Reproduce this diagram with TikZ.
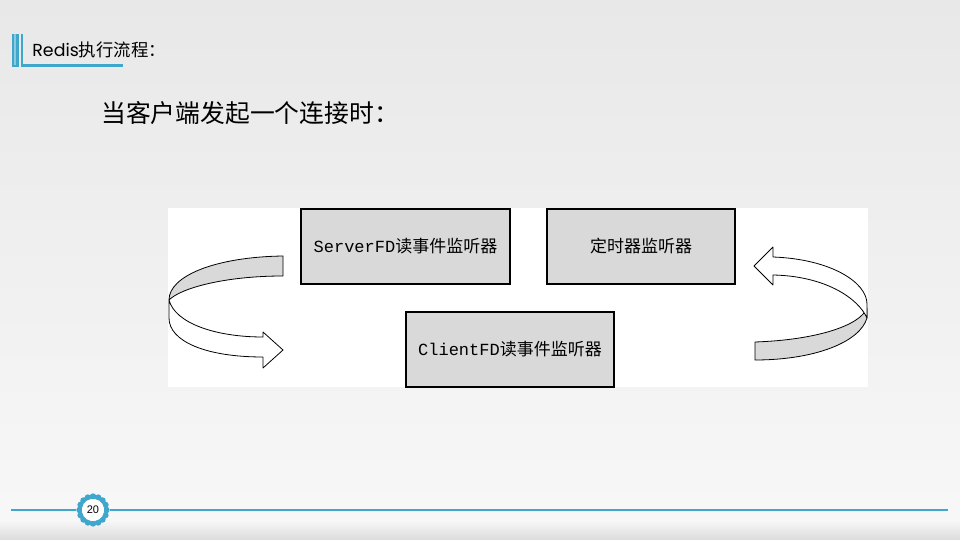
\documentclass[tikz,border=0pt]{standalone}
\usepackage{fontspec}
\newfontfamily\cjk{Noto Sans CJK SC}
\newfontfamily\monofnt{Liberation Mono}
\newfontfamily\headfnt{Poppins}
\newfontfamily\numfnt{Liberation Sans}
\usepackage{xcolor}
\usepackage{tikz}
\usetikzlibrary{positioning, calc}
\definecolor{accent}{HTML}{3FA7CC}
\definecolor{boxgray}{HTML}{D9D9D9}

\begin{document}
\begin{tikzpicture}[
    x=0.5pt, y=-0.5pt,
    node distance=14pt and 18.5pt,
    listener/.style={rectangle, draw=black, fill=boxgray, line width=0.6pt, minimum height=37.5pt, outer sep=0pt, inner sep=0pt, font=\fontsize{8.5}{10}\selectfont},
    ribbon/.style={draw=black, line width=0.4pt, line join=round},
    rule/.style={accent, line width=1pt}
]
\useasboundingbox (0,0) rectangle (960,540);
\shade[top color=black!9, bottom color=blue!2!black!3] (0,0) rectangle (960,522);
\shade[top color=blue!2!black!4, bottom color=black!14] (0,522) rectangle (960,540);

\draw[accent, line width=1.3pt, fill=accent!60] (13,34) -- (13,66) -- (17.5,66) -- (17.5,34);
\draw[accent, line width=1.3pt] (22,34) -- (22,65.5) -- (123,65.5);
\node[anchor=west, inner sep=0pt, font=\fontsize{8.7}{10}\selectfont] (head) at (32,50) {\headfnt Redis\cjk 执行流程：};

\node[anchor=west, inner sep=0pt, font=\cjk\fontsize{12.4}{14}\selectfont] (title) at (101,113) {当客户端发起一个连接时：};

\fill[white] (168,208) rectangle (868,387);

\node[listener, minimum width=104.5pt] (server) at (405.5,246.5) {\monofnt ServerFD\cjk 读事件监听器};
\node[listener, minimum width=94pt, right=of server] (timer) {\cjk 定时器监听器};
\node[listener, minimum width=104pt, below=of server.south east] (client) {\monofnt ClientFD\cjk 读事件监听器};

\filldraw[ribbon, fill=boxgray] (283,256) .. controls (215,257) and (169,276) .. (169,300)
    .. controls (181,288) and (225,276) .. (283,276) -- cycle;
\filldraw[ribbon, fill=white] (169,300) .. controls (175,323) and (215,337) .. (263,337)
    -- (263,332) -- (283,350) -- (263,368) -- (263,357)
    .. controls (205,357) and (169,341) .. (169,318) -- cycle;

\filldraw[ribbon, fill=boxgray] (755,342) .. controls (815,340) and (860,326) .. (867,308)
    -- (867,318) .. controls (860,342) and (815,360) .. (755,360) -- cycle;
\filldraw[ribbon, fill=white] (773,257) .. controls (830,259) and (867,282) .. (867,304)
    -- (867,318) .. controls (858,298) and (825,276) .. (773,275)
    -- (773,285) -- (754,266) -- (773,247) -- cycle;

\draw[rule] (11,510) -- (76,510);
\draw[rule] (110,510) -- (948,510);
\foreach \a in {0,22.5,...,337.5}
    \fill[accent] ($(93,510)+(\a:13.5)$) circle (3.2);
\draw[accent, line width=1.6pt] (93,510) circle (13.5);
\node[circle, fill=white, minimum size=11pt, inner sep=0pt, font=\numfnt\fontsize{5.5}{6}\selectfont] (page) at (93,510) {20};
\end{tikzpicture}
\end{document}
